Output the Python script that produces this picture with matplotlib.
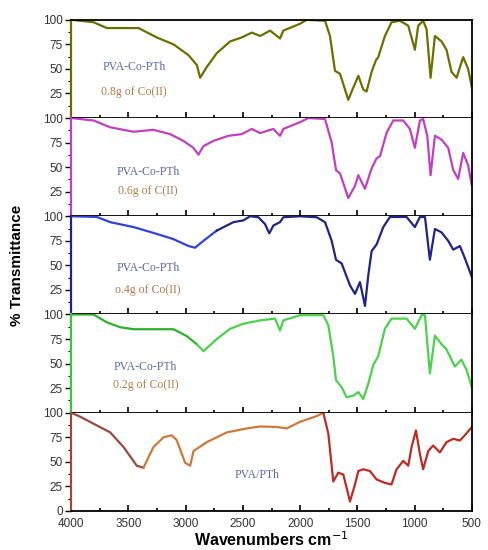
import matplotlib
matplotlib.use('Agg')
import matplotlib.pyplot as plt
from matplotlib.ticker import MultipleLocator

# wavenumber / %T, one pair of lists per spectrum
wn_08 = [4000, 3805, 3689, 3412, 3252, 3107, 2976, 2903, 2874, 2816, 2729, 2612, 2511, 2423, 2350,
         2263, 2176, 2147, 2001, 1943, 1783, 1740, 1696, 1652, 1580, 1536, 1492, 1449, 1420, 1376,
         1338, 1318, 1260, 1202, 1129, 1056, 998, 969, 926, 896, 861, 823, 765, 722, 678, 634, 576, 533, 500]
t_08 = [100, 97.5, 91.6, 91.6, 82, 75, 64, 54, 41, 52, 66, 78, 82, 87, 83.5,
        89, 81, 89, 96, 100, 99, 83.5, 48, 45, 18.5, 31, 43, 29, 27, 47,
        59, 62, 83.5, 97.5, 99, 94, 69.5, 94, 99, 90.5, 41, 83.5, 78, 69.5, 47, 41, 62, 50, 31]

wn_06 = [4000, 3805, 3660, 3456, 3282, 3136, 3020, 2933, 2889, 2845, 2758, 2627, 2511, 2423, 2350,
         2234, 2176, 2147, 2001, 1929, 1783, 1725, 1687, 1652, 1580, 1521, 1492, 1434, 1376, 1332,
         1303, 1245, 1187, 1100, 1042, 998, 954, 926, 890, 861, 823, 765, 707, 663, 620, 576, 533, 500]
t_06 = [100, 97.5, 90.6, 86, 88, 83.6, 76.7, 69.7, 62.7, 71.4, 76.7, 81.9, 83.6, 88.9, 84.7,
        88.9, 81.9, 88.9, 95.8, 100, 99, 75, 47, 43.6, 18.5, 31, 41.8, 27.9, 48.8, 59,
        61, 85, 97.5, 97.5, 88.9, 69.7, 97.5, 99, 82, 41.8, 82, 78, 69.7, 47, 38, 64.5, 52, 31]

wn_04 = [4000, 3776, 3660, 3456, 3252, 3107, 2976, 2918, 2845, 2729, 2583, 2496, 2438, 2365, 2307,
         2270, 2234, 2176, 2147, 2001, 1856, 1783, 1725, 1687, 1638, 1565, 1521, 1478, 1434, 1405,
         1376, 1332, 1274, 1216, 1071, 998, 954, 910, 867, 823, 765, 707, 663, 605, 562, 500]
t_04 = [100, 99.3, 94, 89, 82, 76.7, 69.7, 68, 75, 85.4, 94, 95.8, 100, 99, 92,
        82.6, 90.6, 94, 99, 100, 99, 94, 75, 55.7, 52, 29.6, 21, 33, 8.7, 40,
        64.5, 71.4, 89, 99.3, 99.3, 89, 99.3, 99.3, 55.7, 87, 83.6, 75, 66, 69.7, 57.5, 38]

wn_02 = [4000, 3805, 3689, 3572, 3456, 3107, 2991, 2903, 2845, 2729, 2612, 2496, 2350, 2220, 2176,
         2147, 2001, 1798, 1754, 1711, 1687, 1638, 1594, 1536, 1492, 1449, 1405, 1361, 1318, 1260,
         1202, 1071, 998, 939, 910, 867, 823, 765, 722, 649, 591, 547, 500]
t_02 = [100, 100, 92, 87, 85, 85, 78, 69.7, 62.7, 75, 85.4, 90.6, 94, 95.8, 83.6,
        94, 99.3, 99.3, 89, 57.5, 33, 26, 15.7, 17.4, 21, 14, 29.6, 48.8, 57.5, 85.4,
        95.8, 95.8, 85.4, 99.3, 99.3, 40, 78.4, 69.7, 64.5, 47, 54, 43.6, 26]

wn_pva = [4000, 3921, 3776, 3660, 3543, 3427, 3369, 3282, 3194, 3121, 3078, 3005, 2961, 2932, 2816,
          2641, 2467, 2350, 2205, 2118, 2001, 1856, 1798, 1754, 1711, 1667, 1623, 1565, 1521, 1492,
          1449, 1391, 1332, 1260, 1202, 1158, 1100, 1056, 1027, 989, 954, 926, 881, 838, 780,
          722, 663, 605, 562, 500]
t_pva = [100, 95.9, 87, 80, 65, 46, 44, 65, 75, 77, 72, 49, 46, 61, 70,
         80, 84, 86, 85.5, 84, 90.7, 96.6, 100, 78.6, 30, 39, 37, 9.7, 27, 40.7,
         42.4, 40.7, 32, 28.6, 27, 42.4, 51, 46, 65, 82, 58, 42.4, 61, 66.6, 59.6,
         70, 73.4, 71.7, 77, 85.5]

spectra = [(wn_08, t_08), (wn_06, t_06), (wn_04, t_04), (wn_02, t_02), (wn_pva, t_pva)]
labels = [('PVA-Co-PTh', '0.8g of Co(II)'),
          ('PVA-Co-PTh', '0.6g of C(II)'),
          ('PVA-Co-PTh', 'o.4g of Co(II)'),
          ('PVA-Co-PTh', '0.2g of Co(II)'),
          ('PVA/PTh', None)]
label_pos = [(3450, 52, 27), (3330, 45, 26), (3330, 47, 24.5), (3350, 47, 28), (2380, 37, None)]
# colour of each curve, split where the original trace changes shade
colours = [[(4000, '#6e6e00')],
           [(4000, '#c13fc1')],
           [(4000, '#2f43d8'), (2600, '#1f2487')],
           [(4000, '#2fae2f'), (2900, '#4cd14c')],
           [(4000, '#9a4a3a'), (3300, '#cc7a3c'), (1790, '#c02a24')]]
spine_colours = ['#6e6e00', '#c13fc1', '#1f2487', '#3cc43c', '#9a4a3a']

plt.rcParams['font.family'] = ['Liberation Sans', 'DejaVu Sans']

fig, axes = plt.subplots(5, 1, figsize=(4.88, 5.5), dpi=100, sharex=True)
fig.subplots_adjust(left=0.146, right=0.967, top=0.964, bottom=0.071, hspace=0)

for i, ax in enumerate(axes):
    wn, t = spectra[i]
    segs = colours[i]
    for k, (start, col) in enumerate(segs):
        end = segs[k + 1][0] if k + 1 < len(segs) else 0
        xs = [w for w in wn if end <= w <= start]
        ys = [v for w, v in zip(wn, t) if end <= w <= start]
        # join with neighbouring segment
        prev = [j for j, w in enumerate(wn) if w > start]
        if prev:
            xs = [wn[prev[-1]]] + xs
            ys = [t[prev[-1]]] + ys
        ax.plot(xs, ys, color=col, lw=1.6, solid_joinstyle='round')

    ax.set_xlim(4000, 500)
    ax.set_ylim(0, 100)
    ax.xaxis.set_major_locator(MultipleLocator(500))
    ax.xaxis.set_minor_locator(MultipleLocator(250))
    ax.yaxis.set_major_locator(MultipleLocator(25))
    ax.yaxis.set_minor_locator(MultipleLocator(12.5))
    ax.tick_params(axis='x', which='major', direction='in', length=4, width=1.2, top=False)
    ax.tick_params(axis='x', which='minor', direction='in', length=2.5, width=1.2, top=False)
    ax.tick_params(axis='y', which='major', direction='out', length=4, width=1, labelsize=8.5,
                   labelcolor='#333333', pad=2)
    ax.tick_params(axis='y', which='minor', direction='out', length=2, width=0.8)
    if i < 4:
        ax.set_yticks([25, 50, 75, 100])
    else:
        ax.set_yticks([0, 25, 50, 75, 100])
    for s in ['top', 'bottom', 'right']:
        ax.spines[s].set_linewidth(1.3)
    ax.spines['left'].set_color(spine_colours[i])
    ax.spines['left'].set_linewidth(1.6)
    if i > 0:
        ax.spines['top'].set_visible(False)

    lx, ly1, ly2 = label_pos[i]
    l1, l2 = labels[i]
    ax.text(lx, ly1, l1, family='Liberation Serif', fontsize=8.5, color='#5a66a8',
            ha='center', va='center')
    if l2:
        ax.text(lx, ly2, l2, family='Liberation Serif', fontsize=8.5, color='#b07a48',
                ha='center', va='center')

axes[-1].tick_params(axis='x', labelsize=8.5, labelcolor='#333333', pad=5)
axes[-1].set_xlabel('Wavenumbers cm$^{-1}$', fontsize=11.5, fontweight='bold', labelpad=0)
fig.text(0.035, 0.517, '% Transmittance', rotation=90, fontsize=11, fontweight='bold',
         ha='center', va='center')

fig.savefig('out.png', dpi=100)
